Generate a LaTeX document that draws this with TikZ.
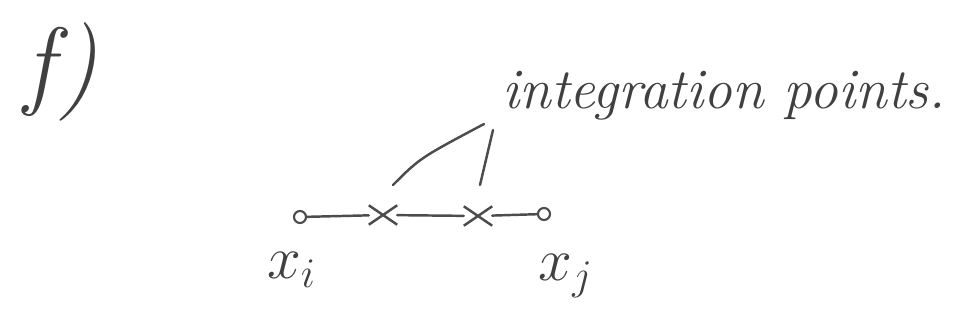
\documentclass[tikz,border=0pt]{standalone}
\usepackage{tikz}
\usetikzlibrary{calc,shapes.misc}
\tikzset{
  pencil/.style={black!70,line width=0.7pt,line cap=round},
  end point/.style={circle,draw=black!70,line width=0.6pt,inner sep=0pt,minimum size=1.2mm},
  int point/.style={cross out,draw=black!70,line width=0.7pt,inner sep=0pt,minimum width=2.6mm,minimum height=1.7mm},
  note text/.style={text=black!75,font=\fontsize{16.3}{18}\selectfont\itshape},
}
\begin{document}
\begin{tikzpicture}
\useasboundingbox (0,0) rectangle (9.58,3.2);
% part label
\node[text=black!75,font=\fontsize{28}{32}\selectfont\itshape,anchor=west] (part) at (0.12,2.48) {f)};
% element with its two end nodes
\node[end point] (xi) at (3.00,1.03) {};
\node[end point] (xj) at (5.44,1.06) {};
\node[int point] (g1) at (3.83,1.05) {};
\node[int point] (g2) at (4.78,1.04) {};
\draw[pencil] (xi) -- (g1) -- (g2) -- (xj);
% labels
\node[text=black!75,font=\fontsize{18}{20}\selectfont] (lxi) at (2.92,0.50) {$x_i$};
\node[text=black!75,font=\fontsize{18}{20}\selectfont] (lxj) at (5.66,0.44) {$x_j$};
\node[note text,anchor=base west] (note) at (4.90,2.12) {integration points.};
% leader lines
\coordinate (a1) at ($(g1)+(0.10,0.30)$);
\coordinate (a2) at ($(g2)+(0.02,0.31)$);
\draw[pencil] (a1) .. controls (4.20,1.62) .. (4.84,1.96);
\draw[pencil] (a2) -- (4.93,1.90);
\end{tikzpicture}
\end{document}
